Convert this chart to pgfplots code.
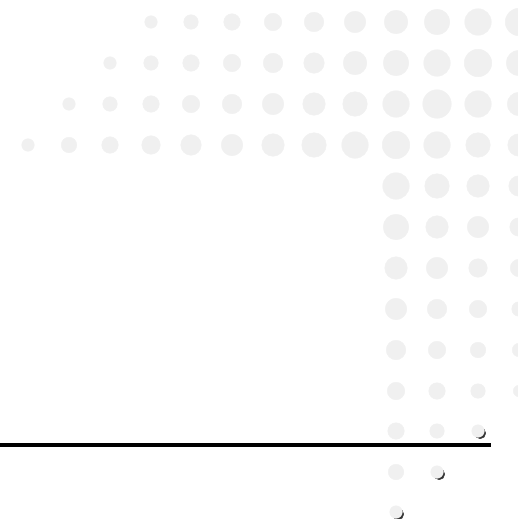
\documentclass[border=0pt]{standalone}
\usepackage{pgfplots}
\pgfplotsset{compat=1.18}
\usepackage{pgfplotstable}
\definecolor{dotgray}{HTML}{F0F0F0}
\definecolor{shade}{HTML}{333333}

% dot grid: x, y (pixels from top-left), d = diameter
\pgfplotstableread{
x y d
151 22 13
191 22 15
232 22 17
273 22 18
314 22 20
355 22 22
396 22 24
437 22 26
478 22 27
519 22 28
110 63 13
151 63 15
191 63 17
232 63 18
273 63 20
314 63 21
355 63 24
396 63 26
437 63 27
478 63 28
519 63 26
69 104 13
110 104 15
151 104 17
191 104 18
232 104 20
273 104 22
314 104 23
355 104 25
396 104 27
437 104 29
478 104 27
519 104 24
28 145 13
69 145 16
110 145 17
151 145 19
191 145 21
232 145 22
273 145 23
314 145 25
355 145 27
396 145 28
437 145 27
478 145 25
519 145 23
396 186 27
437 186 25
478 186 23
519 186 21
396 227 26
437 227 23
478 227 22
519 227 19
396 268 23
437 268 22
478 268 19
519 268 18
396 309 22
437 309 20
478 309 18
519 309 15
396 350 20
437 350 18
478 350 16
519 350 14
396 391 18
437 391 17
478 391 15
519 391 12
396 431 17
437 431 15
478 431 13
396 472 16
437 472 13
396 512 13
}\dotgrid

% dark edge behind the three small dots near the bottom
\pgfplotstableread{
x y d
480.2 433.2 11.5
439.2 474.2 11.5
398.2 514.2 11.5
}\shadows

\pgfplotsset{
    sized dots/.style={
        scatter, only marks, mark=*,
        mark options={draw=#1, fill=#1},
        point meta=\thisrow{d},
        scatter/use mapped color={draw=#1, fill=#1},
        visualization depends on={\thisrow{d}/2-0.2 \as \rad},
        scatter/@pre marker code/.append style={/tikz/mark size=\rad pt},
    },
}

\begin{document}
\begin{tikzpicture}
\begin{axis}[
    width=540pt, height=519pt,
    scale only axis,
    xmin=0, xmax=540,
    ymin=0, ymax=519,
    y dir=reverse,
    hide axis,
    clip=true,
]
\addplot[sized dots=shade] table[x=x, y=y] {\shadows};
\addplot[sized dots=dotgray] table[x=x, y=y] {\dotgrid};
\addplot[black, line width=4pt, mark=none] coordinates {(0,445) (491,445)};
\coordinate (bbsw) at (axis cs:0,519);
\coordinate (bbne) at (axis cs:517,0);
\end{axis}
\pgfresetboundingbox
\path[use as bounding box] (bbsw) rectangle (bbne);
\end{tikzpicture}
\end{document}
